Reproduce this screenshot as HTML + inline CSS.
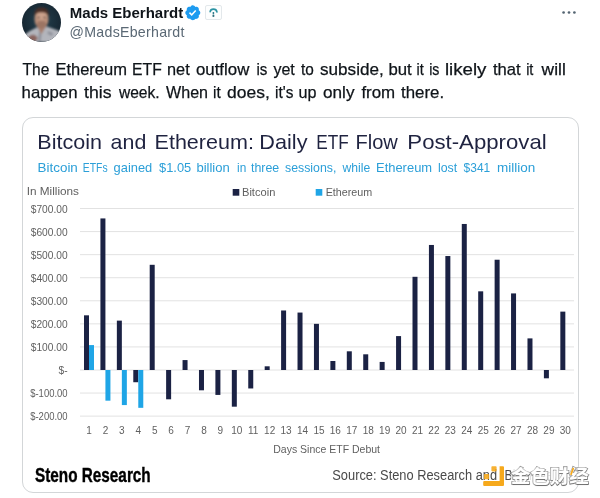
<!DOCTYPE html>
<html lang="en">
<head>
<meta charset="utf-8">
<title>Mads Eberhardt on X</title>
<style>
html,body{margin:0;padding:0;background:#fff;}
body{width:600px;height:498px;position:relative;overflow:hidden;font-family:"Liberation Sans","Noto Sans CJK SC",sans-serif;color:#0f1419;}
.avatar{position:absolute;left:21.8px;top:2.5px;width:39px;height:39px;}
.name{position:absolute;left:69.8px;top:3.8px;font-size:15px;font-weight:bold;line-height:17px;white-space:nowrap;color:#0f1419;}
.handle{position:absolute;left:69.6px;top:24.3px;font-size:14.2px;letter-spacing:0.26px;line-height:17px;white-space:nowrap;color:#5b6975;}
.badge{position:absolute;left:184.1px;top:3.9px;width:17.6px;height:17.6px;}
.aff{position:absolute;left:205.4px;top:5px;width:16.3px;height:15.4px;box-sizing:border-box;border:1px solid #e3e8eb;border-radius:2px;background:#fdfefe;}
.more{position:absolute;left:562px;top:10.9px;width:14px;height:3px;}
.tweet{position:absolute;left:22.2px;top:58.3px;width:570px;margin:0;font-size:17.2px;line-height:23px;white-space:nowrap;color:#0f1419;}
.card{position:absolute;left:22px;top:117px;width:557px;height:376px;box-sizing:border-box;border:1px solid #d3d6d8;border-radius:11px;background:#fff;}
.chart{position:absolute;left:0;top:0;width:600px;height:498px;font-family:"Liberation Sans","Noto Sans CJK SC",sans-serif;}
.wm{position:absolute;left:511.4px;top:462.6px;font-family:"Liberation Sans","Noto Sans CJK SC",sans-serif;font-weight:700;font-size:19px;line-height:28px;color:#fff;-webkit-text-stroke:1.8px #666;paint-order:stroke fill;white-space:nowrap;text-shadow:0.3px 1px 0.7px rgba(0,0,0,.45),0 0 3px #fff,0 0 3px #fff;transform-origin:0 50%;transform:scale(1.02,0.94);}
.wmlogo{position:absolute;left:482px;top:465px;width:23px;height:22px;}
.wmveil{position:absolute;left:511px;top:466px;width:60px;height:20px;background:rgba(255,255,255,.8);}
.wmacc{position:absolute;left:569px;top:467px;width:6px;height:9px;}
</style>
</head>
<body>
<div class="card"></div>
<svg class="chart" viewBox="0 0 600 498">
<defs><clipPath id="cc"><rect x="23" y="118" width="555" height="374" rx="10"/></clipPath></defs>
<g clip-path="url(#cc)" style="filter:blur(0.35px)">
<line x1="80" x2="574" y1="416.14" y2="416.14" stroke="#e2e2e2" stroke-width="1"/>
<line x1="80" x2="574" y1="393.07" y2="393.07" stroke="#e2e2e2" stroke-width="1"/>
<line x1="80" x2="574" y1="370.00" y2="370.00" stroke="#e2e2e2" stroke-width="1"/>
<line x1="80" x2="574" y1="346.93" y2="346.93" stroke="#e2e2e2" stroke-width="1"/>
<line x1="80" x2="574" y1="323.86" y2="323.86" stroke="#e2e2e2" stroke-width="1"/>
<line x1="80" x2="574" y1="300.79" y2="300.79" stroke="#e2e2e2" stroke-width="1"/>
<line x1="80" x2="574" y1="277.72" y2="277.72" stroke="#e2e2e2" stroke-width="1"/>
<line x1="80" x2="574" y1="254.65" y2="254.65" stroke="#e2e2e2" stroke-width="1"/>
<line x1="80" x2="574" y1="231.58" y2="231.58" stroke="#e2e2e2" stroke-width="1"/>
<line x1="80" x2="574" y1="208.51" y2="208.51" stroke="#e2e2e2" stroke-width="1"/>
<rect x="84.00" y="315.32" width="5.0" height="54.68" fill="#1b2244"/>
<rect x="89.00" y="345.08" width="5.0" height="24.92" fill="#1fa5e6"/>
<rect x="100.42" y="218.43" width="5.0" height="151.57" fill="#1b2244"/>
<rect x="105.42" y="370.00" width="5.0" height="30.68" fill="#1fa5e6"/>
<rect x="116.85" y="320.63" width="5.0" height="49.37" fill="#1b2244"/>
<rect x="121.85" y="370.00" width="5.0" height="35.07" fill="#1fa5e6"/>
<rect x="133.28" y="370.00" width="5.0" height="12.23" fill="#1b2244"/>
<rect x="138.28" y="370.00" width="5.0" height="37.83" fill="#1fa5e6"/>
<rect x="149.70" y="264.80" width="5.0" height="105.20" fill="#1b2244"/>
<rect x="166.12" y="370.00" width="5.0" height="29.30" fill="#1b2244"/>
<rect x="182.55" y="360.08" width="5.0" height="9.92" fill="#1b2244"/>
<rect x="198.98" y="370.00" width="5.0" height="20.30" fill="#1b2244"/>
<rect x="215.40" y="370.00" width="5.0" height="24.92" fill="#1b2244"/>
<rect x="231.83" y="370.00" width="5.0" height="36.68" fill="#1b2244"/>
<rect x="248.25" y="370.00" width="5.0" height="18.46" fill="#1b2244"/>
<rect x="264.68" y="366.31" width="5.0" height="3.69" fill="#1b2244"/>
<rect x="281.10" y="310.48" width="5.0" height="59.52" fill="#1b2244"/>
<rect x="297.52" y="312.56" width="5.0" height="57.44" fill="#1b2244"/>
<rect x="313.95" y="323.86" width="5.0" height="46.14" fill="#1b2244"/>
<rect x="330.38" y="361.00" width="5.0" height="9.00" fill="#1b2244"/>
<rect x="346.80" y="351.31" width="5.0" height="18.69" fill="#1b2244"/>
<rect x="363.23" y="354.31" width="5.0" height="15.69" fill="#1b2244"/>
<rect x="379.65" y="361.93" width="5.0" height="8.07" fill="#1b2244"/>
<rect x="396.07" y="336.09" width="5.0" height="33.91" fill="#1b2244"/>
<rect x="412.50" y="276.80" width="5.0" height="93.20" fill="#1b2244"/>
<rect x="428.93" y="244.96" width="5.0" height="125.04" fill="#1b2244"/>
<rect x="445.35" y="256.03" width="5.0" height="113.97" fill="#1b2244"/>
<rect x="461.78" y="223.97" width="5.0" height="146.03" fill="#1b2244"/>
<rect x="478.20" y="291.33" width="5.0" height="78.67" fill="#1b2244"/>
<rect x="494.62" y="259.73" width="5.0" height="110.27" fill="#1b2244"/>
<rect x="511.05" y="293.41" width="5.0" height="76.59" fill="#1b2244"/>
<rect x="527.48" y="338.39" width="5.0" height="31.61" fill="#1b2244"/>
<rect x="543.90" y="370.00" width="5.0" height="8.31" fill="#1b2244"/>
<rect x="560.33" y="311.63" width="5.0" height="58.37" fill="#1b2244"/>
<text x="67.6" y="212.81" text-anchor="end" font-size="10.2" fill="#5f5f5f">$700.00</text>
<text x="67.6" y="235.88" text-anchor="end" font-size="10.2" fill="#5f5f5f">$600.00</text>
<text x="67.6" y="258.95" text-anchor="end" font-size="10.2" fill="#5f5f5f">$500.00</text>
<text x="67.6" y="282.02" text-anchor="end" font-size="10.2" fill="#5f5f5f">$400.00</text>
<text x="67.6" y="305.09" text-anchor="end" font-size="10.2" fill="#5f5f5f">$300.00</text>
<text x="67.6" y="328.16" text-anchor="end" font-size="10.2" fill="#5f5f5f">$200.00</text>
<text x="67.6" y="351.23" text-anchor="end" font-size="10.2" fill="#5f5f5f">$100.00</text>
<text x="67.6" y="374.30" text-anchor="end" font-size="10.2" fill="#5f5f5f">$-</text>
<text x="67.6" y="397.37" text-anchor="end" font-size="10.2" fill="#5f5f5f" textLength="37.4" lengthAdjust="spacingAndGlyphs">$-100.00</text>
<text x="67.6" y="420.44" text-anchor="end" font-size="10.2" fill="#5f5f5f" textLength="37.4" lengthAdjust="spacingAndGlyphs">$-200.00</text>
<text x="89.00" y="434.3" text-anchor="middle" font-size="10" fill="#5f5f5f">1</text>
<text x="105.42" y="434.3" text-anchor="middle" font-size="10" fill="#5f5f5f">2</text>
<text x="121.85" y="434.3" text-anchor="middle" font-size="10" fill="#5f5f5f">3</text>
<text x="138.28" y="434.3" text-anchor="middle" font-size="10" fill="#5f5f5f">4</text>
<text x="154.70" y="434.3" text-anchor="middle" font-size="10" fill="#5f5f5f">5</text>
<text x="171.12" y="434.3" text-anchor="middle" font-size="10" fill="#5f5f5f">6</text>
<text x="187.55" y="434.3" text-anchor="middle" font-size="10" fill="#5f5f5f">7</text>
<text x="203.98" y="434.3" text-anchor="middle" font-size="10" fill="#5f5f5f">8</text>
<text x="220.40" y="434.3" text-anchor="middle" font-size="10" fill="#5f5f5f">9</text>
<text x="236.83" y="434.3" text-anchor="middle" font-size="10" fill="#5f5f5f">10</text>
<text x="253.25" y="434.3" text-anchor="middle" font-size="10" fill="#5f5f5f">11</text>
<text x="269.68" y="434.3" text-anchor="middle" font-size="10" fill="#5f5f5f">12</text>
<text x="286.10" y="434.3" text-anchor="middle" font-size="10" fill="#5f5f5f">13</text>
<text x="302.52" y="434.3" text-anchor="middle" font-size="10" fill="#5f5f5f">14</text>
<text x="318.95" y="434.3" text-anchor="middle" font-size="10" fill="#5f5f5f">15</text>
<text x="335.38" y="434.3" text-anchor="middle" font-size="10" fill="#5f5f5f">16</text>
<text x="351.80" y="434.3" text-anchor="middle" font-size="10" fill="#5f5f5f">17</text>
<text x="368.23" y="434.3" text-anchor="middle" font-size="10" fill="#5f5f5f">18</text>
<text x="384.65" y="434.3" text-anchor="middle" font-size="10" fill="#5f5f5f">19</text>
<text x="401.07" y="434.3" text-anchor="middle" font-size="10" fill="#5f5f5f">20</text>
<text x="417.50" y="434.3" text-anchor="middle" font-size="10" fill="#5f5f5f">21</text>
<text x="433.93" y="434.3" text-anchor="middle" font-size="10" fill="#5f5f5f">22</text>
<text x="450.35" y="434.3" text-anchor="middle" font-size="10" fill="#5f5f5f">23</text>
<text x="466.78" y="434.3" text-anchor="middle" font-size="10" fill="#5f5f5f">24</text>
<text x="483.20" y="434.3" text-anchor="middle" font-size="10" fill="#5f5f5f">25</text>
<text x="499.62" y="434.3" text-anchor="middle" font-size="10" fill="#5f5f5f">26</text>
<text x="516.05" y="434.3" text-anchor="middle" font-size="10" fill="#5f5f5f">27</text>
<text x="532.48" y="434.3" text-anchor="middle" font-size="10" fill="#5f5f5f">28</text>
<text x="548.90" y="434.3" text-anchor="middle" font-size="10" fill="#5f5f5f">29</text>
<text x="565.33" y="434.3" text-anchor="middle" font-size="10" fill="#5f5f5f">30</text>
<text y="148.7" font-size="21" fill="#1f2340"><tspan x="37.37" textLength="64.72" lengthAdjust="spacingAndGlyphs">Bitcoin</tspan> <tspan x="110.60" textLength="35.69" lengthAdjust="spacingAndGlyphs">and</tspan> <tspan x="154.57" textLength="99.31" lengthAdjust="spacingAndGlyphs">Ethereum:</tspan> <tspan x="259.37" textLength="48.12" lengthAdjust="spacingAndGlyphs">Daily</tspan> <tspan x="316.18" textLength="32.50" lengthAdjust="spacingAndGlyphs">ETF</tspan> <tspan x="355.44" textLength="42.36" lengthAdjust="spacingAndGlyphs">Flow</tspan> <tspan x="407.34" textLength="139.36" lengthAdjust="spacingAndGlyphs">Post-Approval</tspan></text>
<text y="172" font-size="13" fill="#2b9fd8"><tspan x="37.57" textLength="40.27" lengthAdjust="spacingAndGlyphs">Bitcoin</tspan> <tspan x="82.80" textLength="24.80" lengthAdjust="spacingAndGlyphs">ETFs</tspan> <tspan x="113.60" textLength="38.63" lengthAdjust="spacingAndGlyphs">gained</tspan> <tspan x="159.00" textLength="32.23" lengthAdjust="spacingAndGlyphs">$1.05</tspan> <tspan x="196.40" textLength="33.33" lengthAdjust="spacingAndGlyphs">billion</tspan> <tspan x="237.00" textLength="9.21" lengthAdjust="spacingAndGlyphs">in</tspan> <tspan x="251.00" textLength="28.22" lengthAdjust="spacingAndGlyphs">three</tspan> <tspan x="285.00" textLength="51.38" lengthAdjust="spacingAndGlyphs">sessions,</tspan> <tspan x="342.53" textLength="27.68" lengthAdjust="spacingAndGlyphs">while</tspan> <tspan x="376.00" textLength="56.12" lengthAdjust="spacingAndGlyphs">Ethereum</tspan> <tspan x="438.00" textLength="19.23" lengthAdjust="spacingAndGlyphs">lost</tspan> <tspan x="463.60" textLength="26.61" lengthAdjust="spacingAndGlyphs">$341</tspan> <tspan x="497.00" textLength="38.24" lengthAdjust="spacingAndGlyphs">million</tspan></text>
<text x="26.7" y="194.8" font-size="10.6" fill="#5f5f5f" textLength="52.3" lengthAdjust="spacingAndGlyphs">In Millions</text>
<rect x="232.7" y="189" width="6.6" height="6.7" fill="#1b2244"/>
<text x="242" y="196" font-size="10.4" fill="#5f5f5f" textLength="33.3" lengthAdjust="spacingAndGlyphs">Bitcoin</text>
<rect x="315.7" y="189" width="6.6" height="6.7" fill="#1fa5e6"/>
<text x="325.7" y="196" font-size="10.4" fill="#5f5f5f" textLength="46.6" lengthAdjust="spacingAndGlyphs">Ethereum</text>
<text x="273.3" y="452.7" font-size="10.5" fill="#5f5f5f" textLength="106.7" lengthAdjust="spacingAndGlyphs">Days Since ETF Debut</text>
<text x="35" y="482" font-size="21" font-weight="bold" fill="#000" stroke="#000" stroke-width="0.4" textLength="115.7" lengthAdjust="spacingAndGlyphs">Steno Research</text>
<text y="480" font-size="14" fill="#4a4a4a"><tspan x="332.3" textLength="168.4" lengthAdjust="spacingAndGlyphs">Source: Steno Research and </tspan><tspan x="504.6" textLength="59" lengthAdjust="spacingAndGlyphs">Bloomberg</tspan></text>
</g>
<text y="74.9" font-size="17" fill="#0f1419" stroke="#0f1419" stroke-width="0.25"><tspan x="22.60" textLength="26.82" lengthAdjust="spacingAndGlyphs">The</tspan> <tspan x="55.43" textLength="71.53" lengthAdjust="spacingAndGlyphs">Ethereum</tspan> <tspan x="132.08" textLength="29.68" lengthAdjust="spacingAndGlyphs">ETF</tspan> <tspan x="167.04" textLength="22.69" lengthAdjust="spacingAndGlyphs">net</tspan> <tspan x="196.00" textLength="53.28" lengthAdjust="spacingAndGlyphs">outflow</tspan> <tspan x="256.51" textLength="10.94" lengthAdjust="spacingAndGlyphs">is</tspan> <tspan x="273.40" textLength="21.34" lengthAdjust="spacingAndGlyphs">yet</tspan> <tspan x="301.00" textLength="12.81" lengthAdjust="spacingAndGlyphs">to</tspan> <tspan x="320.00" textLength="63.73" lengthAdjust="spacingAndGlyphs">subside,</tspan> <tspan x="388.41" textLength="23.31" lengthAdjust="spacingAndGlyphs">but</tspan> <tspan x="416.55" textLength="7.21" lengthAdjust="spacingAndGlyphs">it</tspan> <tspan x="429.16" textLength="10.25" lengthAdjust="spacingAndGlyphs">is</tspan> <tspan x="444.90" textLength="41.55" lengthAdjust="spacingAndGlyphs">likely</tspan> <tspan x="493.00" textLength="27.73" lengthAdjust="spacingAndGlyphs">that</tspan> <tspan x="526.15" textLength="7.21" lengthAdjust="spacingAndGlyphs">it</tspan> <tspan x="541.62" textLength="24.17" lengthAdjust="spacingAndGlyphs">will</tspan></text>
<text y="97.9" font-size="17" fill="#0f1419" stroke="#0f1419" stroke-width="0.25"><tspan x="21.62" textLength="55.83" lengthAdjust="spacingAndGlyphs">happen</tspan> <tspan x="84.00" textLength="27.52" lengthAdjust="spacingAndGlyphs">this</tspan> <tspan x="118.92" textLength="40.75" lengthAdjust="spacingAndGlyphs">week.</tspan> <tspan x="166.00" textLength="42.03" lengthAdjust="spacingAndGlyphs">When</tspan> <tspan x="213.10" textLength="7.65" lengthAdjust="spacingAndGlyphs">it</tspan> <tspan x="227.00" textLength="42.74" lengthAdjust="spacingAndGlyphs">does,</tspan> <tspan x="275.09" textLength="18.36" lengthAdjust="spacingAndGlyphs">it's</tspan> <tspan x="298.45" textLength="17.98" lengthAdjust="spacingAndGlyphs">up</tspan> <tspan x="323.00" textLength="31.50" lengthAdjust="spacingAndGlyphs">only</tspan> <tspan x="361.40" textLength="33.76" lengthAdjust="spacingAndGlyphs">from</tspan> <tspan x="401.00" textLength="43.12" lengthAdjust="spacingAndGlyphs">there.</tspan></text>
</svg>

<svg class="avatar" viewBox="0 0 39 39">
<defs><clipPath id="av"><circle cx="19.5" cy="19.5" r="19.5"/></clipPath>
<filter id="bl" x="-10%" y="-10%" width="120%" height="120%"><feGaussianBlur stdDeviation="1.0"/></filter>
<radialGradient id="abg" cx="0.5" cy="0.45" r="0.6"><stop offset="0" stop-color="#24414f"/><stop offset="1" stop-color="#15232e"/></radialGradient></defs>
<g clip-path="url(#av)">
<rect width="39" height="39" fill="url(#abg)"/>
<g filter="url(#bl)">
<path d="M1 39 L3.5 31 Q8 27.5 14.5 24.5 L25 23.5 Q32 26 37.5 28 L39 39 Z" fill="#b3b5bc"/>
<path d="M14.8 23 L19.3 31.5 L24.6 22.5 Z" fill="#a57f6e"/>
<path d="M17 28 L19.3 32 L18.6 39 L16.6 39 Z" fill="#8b8d96"/>
<ellipse cx="19.5" cy="16.2" rx="7" ry="9.6" fill="#b88e78"/>
<ellipse cx="19.5" cy="13.2" rx="5.2" ry="3.6" fill="#cfa68f" opacity="0.85"/>
<ellipse cx="19.5" cy="21.8" rx="5.2" ry="3.8" fill="#96705f" opacity="0.85"/>
<path d="M12.2 13.8 Q11.6 4.4 19.5 4.4 Q27.4 4.4 26.8 13.8 Q24.5 9 19.5 9.4 Q14.5 9 12.2 13.8 Z" fill="#4a2f26"/>
<ellipse cx="16.6" cy="14.4" rx="1.5" ry="0.7" fill="#3a2a26"/>
<ellipse cx="22.5" cy="14.4" rx="1.5" ry="0.7" fill="#3a2a26"/>
<path d="M5 36 Q8 30.5 13 32 L16 35 L13 39 L5 39 Z" fill="#8a655f"/>
<path d="M26 28 L31 30 L30 33 L25.5 31 Z" fill="#8f929b"/>
</g>
</g>
</svg>
<div class="name">Mads Eberhardt</div>
<div class="handle">@MadsEberhardt</div>
<svg class="badge" viewBox="0 0 22 22"><path fill="#1d9bf0" d="M20.396 11c-.018-.646-.215-1.275-.57-1.816-.354-.54-.852-.972-1.438-1.246.223-.607.27-1.264.14-1.897-.131-.634-.437-1.218-.882-1.687-.47-.445-1.053-.75-1.687-.882-.633-.13-1.29-.083-1.897.14-.273-.587-.704-1.086-1.245-1.44S11.647 1.62 11 1.604c-.646.017-1.273.213-1.813.568s-.969.854-1.24 1.44c-.608-.223-1.267-.272-1.902-.14-.635.13-1.22.436-1.69.882-.445.47-.749 1.055-.878 1.688-.13.633-.08 1.290.144 1.896-.587.274-1.087.705-1.443 1.245-.356.54-.555 1.17-.574 1.817.02.647.218 1.276.574 1.817.356.54.856.972 1.443 1.245-.224.606-.274 1.263-.144 1.896.13.634.433 1.218.877 1.688.47.443 1.054.747 1.687.878.633.132 1.290.084 1.897-.136.274.586.705 1.084 1.246 1.439.54.354 1.170.551 1.816.569.647-.016 1.276-.213 1.817-.567s.972-.854 1.245-1.440c.604.239 1.266.296 1.903.164.636-.132 1.220-.447 1.680-.907.46-.46.776-1.044.908-1.681s.075-1.299-.165-1.903c.586-.274 1.084-.705 1.439-1.246.354-.54.551-1.170.569-1.816zM9.662 14.850l-3.429-3.428 1.293-1.302 2.072 2.072 4.400-4.794 1.347 1.246z"/></svg>
<div class="aff"><svg viewBox="0 0 16 15" width="16" height="15" style="position:absolute;left:-1px;top:-1px"><path d="M5.2 6.6 Q5.6 4.2 8.4 4.2 Q11.4 4.2 11.9 6.9" fill="none" stroke="#2b93a3" stroke-width="1.7" stroke-linecap="round"/><path d="M8.4 7 V9.4" stroke="#2f7f8d" stroke-width="1.5" fill="none"/><circle cx="8.4" cy="10.9" r="1.05" fill="#2f6f7c"/></svg></div>
<svg class="more" viewBox="0 0 14 3"><circle cx="1.6" cy="1.5" r="1.35" fill="#536471"/><circle cx="7" cy="1.5" r="1.35" fill="#536471"/><circle cx="12.4" cy="1.5" r="1.35" fill="#536471"/></svg>

<div class="wmveil"></div>
<svg class="wmlogo" viewBox="0 0 23 22">
<g fill="#f6a91c">
<path d="M17.6 1.2 H21 Q22 1.2 22 2.2 V20 Q22 21 21 21 H2.2 Q1.2 21 1.2 20 V16.9 Q1.2 15.9 2.2 15.9 H17.6 Z"/>
<rect x="9.4" y="1.2" width="5.2" height="5.2" rx="0.8" opacity="0.9"/>
<rect x="1.9" y="9" width="5.2" height="5.2" rx="0.8" opacity="0.9"/>
</g>
</svg>
<div class="wm">金色财经</div>
<svg class="wmacc" viewBox="0 0 6 9"><path d="M3.6 0.6 L5.2 1.2 L2.6 8.2 L1 7.6 Z" fill="#f6a91c"/></svg>
</body>
</html>
